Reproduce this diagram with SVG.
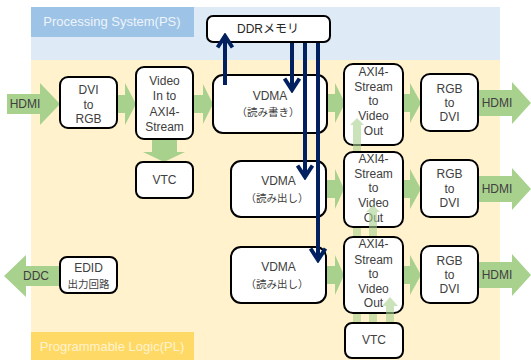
<svg xmlns="http://www.w3.org/2000/svg" width="531" height="360" viewBox="0 0 531 360">
<style>
text{font-family:"Liberation Sans","Noto Sans CJK JP",sans-serif;font-size:12px;fill:#404040;text-anchor:middle;dominant-baseline:central}
.jp{font-family:"Noto Sans CJK JP",sans-serif;font-size:10.5px}
.box{fill:#fff;stroke:#000;stroke-width:2}
.ga{fill:#a9d18e}
.va{fill:#a9d18e;opacity:0.6}
.nv{stroke:#002060;stroke-width:4;fill:none;marker-end:url(#chev)}
.lbl{font-size:13px}
</style>
<defs>
<marker id="chev" viewBox="0 0 16 18" refX="13" refY="9" markerWidth="16" markerHeight="18" markerUnits="userSpaceOnUse" orient="auto">
<path d="M1.5,1.5 L13,9 L1.5,16.5" fill="none" stroke="#002060" stroke-width="4"/>
</marker>
</defs>
<rect width="531" height="360" fill="#fff"/>
<rect x="31" y="7" width="469" height="53" fill="#deebf7"/>
<rect x="31" y="7" width="163" height="30" fill="#9dc3e6"/>
<text x="112" y="21" class="lbl" style="fill:#eef4fb">Processing System(PS)</text>
<rect x="31" y="60" width="469" height="300" fill="#fff2cc"/>
<rect x="31" y="332" width="163" height="28" fill="#ffd966"/>
<text x="112" y="346" class="lbl" style="fill:#fff3cf">Programmable Logic(PL)</text>
<g id="flow-arrows">
<path class="ga" d="M7,94 L40,94 L40,83 L60,104 L40,125 L40,114 L7,114 Z"/>
<text x="25" y="104">HDMI</text>
<path class="ga" d="M117,95 L125,95 L125,83 L136,104 L125,125 L125,113 L117,113 Z"/>
<path class="ga" d="M193,95 L203,95 L203,84 L213,104 L203,124 L203,113 L193,113 Z"/>
<path class="ga" d="M152,139 L177,139 L177,152 L185,152 L164,162 L143,152 L152,152 Z"/>
<path class="ga" d="M327,94 L335,94 L335,83 L345,103 L335,123 L335,112 L327,112 Z"/>
<path class="ga" d="M403,94 L410,94 L410,83 L421,103 L410,123 L410,112 L403,112 Z"/>
<path class="ga" d="M478,90 L512,90 L512,82 L531,103 L512,124 L512,116 L478,116 Z"/>
<text x="497" y="103">HDMI</text>
<path class="ga" d="M326,180 L335,180 L335,169 L344,189 L335,209 L335,198 L326,198 Z"/>
<path class="ga" d="M403,180 L410,180 L410,169 L421,189 L410,209 L410,198 L403,198 Z"/>
<path class="ga" d="M478,176 L512,176 L512,168 L531,189 L512,210 L512,202 L478,202 Z"/>
<text x="497" y="189">HDMI</text>
<path class="ga" d="M326,266 L335,266 L335,255 L344,275 L335,295 L335,284 L326,284 Z"/>
<path class="ga" d="M403,266 L410,266 L410,255 L421,275 L410,295 L410,284 L403,284 Z"/>
<path class="ga" d="M478,262 L512,262 L512,254 L531,275 L512,296 L512,288 L478,288 Z"/>
<text x="497" y="275">HDMI</text>
<path class="ga" d="M60,266 L26,266 L26,255 L4,276 L26,297 L26,286 L60,286 Z"/>
<text x="36" y="276">DDC</text>
</g>
<g id="dvi2rgb"><rect class="box" x="60" y="77" width="57" height="51" rx="8"/>
<text x="88.5" y="90">DVI</text><text x="88.5" y="105">to</text><text x="88.5" y="119">RGB</text></g>
<g id="videoin"><rect class="box" x="136" y="67" width="57" height="72" rx="8"/>
<text x="164.5" y="81">Video</text><text x="164.5" y="96">In to</text><text x="164.5" y="112">AXI4-</text><text x="164.5" y="127">Stream</text></g>
<g id="vtc1"><rect class="box" x="136" y="162" width="57" height="36" rx="7"/>
<text x="164.5" y="180">VTC</text></g>
<g id="edid"><rect class="box" x="60" y="257" width="57" height="36" rx="7"/>
<text x="88.5" y="268">EDID</text><text x="88.5" y="283" class="jp">出力回路</text></g>
<g id="ddr"><rect class="box" x="207" y="16" width="123" height="26" rx="6"/>
<text x="268" y="29" style="fill:#262626">DDRメモリ</text></g>
<g id="vdma1"><rect class="box" x="213" y="75" width="114" height="58" rx="10"/>
<text x="270" y="96">VDMA</text><text x="268" y="111" class="jp">（読み書き）</text></g>
<g id="vdma2"><rect class="box" x="231" y="161" width="95" height="56" rx="10"/>
<text x="278.5" y="181">VDMA</text><text x="277" y="197" class="jp">（読み出し）</text></g>
<g id="vdma3"><rect class="box" x="231" y="247" width="95" height="56" rx="10"/>
<text x="278.5" y="267">VDMA</text><text x="277" y="283" class="jp">（読み出し）</text></g>
<g id="axi2vo1"><rect class="box" x="344" y="64" width="59" height="81" rx="9"/>
<text x="373.5" y="72">AXI4-</text><text x="373.5" y="87">Stream</text><text x="373.5" y="101">to</text><text x="373.5" y="116">Video</text><text x="373.5" y="131">Out</text></g>
<path class="va" d="M353,323 L353,125 L350,125 L357,118 L364,125 L361,125 L361,323 Z"/>
<g id="axi2vo2"><rect class="box" x="344" y="152" width="59" height="75" rx="9"/>
<text x="373.5" y="159">AXI4-</text><text x="373.5" y="174">Stream</text><text x="373.5" y="188">to</text><text x="373.5" y="203">Video</text><text x="373.5" y="218">Out</text></g>
<path class="va" d="M369,323 L369,212 L366,212 L373,205 L380,212 L377,212 L377,323 Z"/>
<g id="axi2vo3"><rect class="box" x="344" y="237" width="59" height="76" rx="9"/>
<text x="373.5" y="244">AXI4-</text><text x="373.5" y="260">Stream</text><text x="373.5" y="274">to</text><text x="373.5" y="289">Video</text><text x="373.5" y="303">Out</text></g>
<path class="va" d="M386,323 L386,306 L382,306 L390,297 L398,306 L394,306 L394,323 Z"/>
<g id="vtc2"><rect class="box" x="345" y="323" width="58" height="35" rx="7"/>
<text x="374" y="340">VTC</text></g>
<g id="rgb2dvi1"><rect class="box" x="421" y="74" width="57" height="57" rx="9"/>
<text x="449.5" y="89">RGB</text><text x="449.5" y="103">to</text><text x="449.5" y="117">DVI</text></g>
<g id="rgb2dvi2"><rect class="box" x="421" y="160" width="57" height="57" rx="9"/>
<text x="449.5" y="174">RGB</text><text x="449.5" y="189">to</text><text x="449.5" y="203">DVI</text></g>
<g id="rgb2dvi3"><rect class="box" x="421" y="246" width="57" height="57" rx="9"/>
<text x="449.5" y="261">RGB</text><text x="449.5" y="275">to</text><text x="449.5" y="289">DVI</text></g>
<g id="connectors">
<line class="nv" x1="225" y1="85" x2="225" y2="36"/>
<line class="nv" x1="292" y1="43" x2="292" y2="90"/>
<line class="nv" x1="305" y1="43" x2="305" y2="177"/>
<line class="nv" x1="318" y1="43" x2="318" y2="260"/>
</g>
</svg>
